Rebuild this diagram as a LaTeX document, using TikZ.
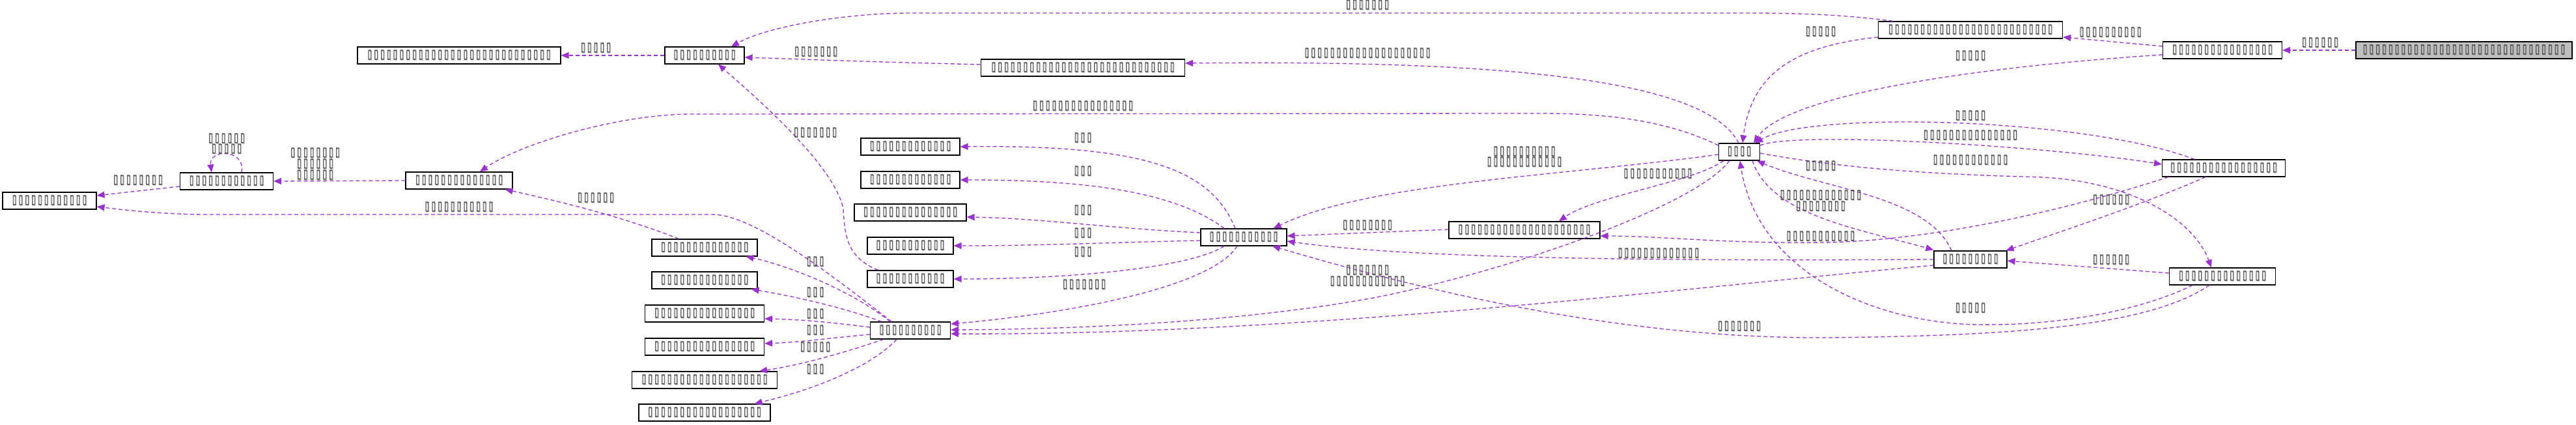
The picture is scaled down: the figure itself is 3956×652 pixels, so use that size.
\documentclass[tikz,border=0pt]{standalone}
\usepackage{fontspec}
\usepackage{graphicx}
\usetikzlibrary{arrows.meta,calc}
\newfontfamily\dvs{DejaVu Sans}
\definecolor{edgec}{HTML}{9A32CD}
\definecolor{grayfill}{HTML}{BFBFBF}
\definecolor{txtc}{HTML}{1A1A1A}
\definecolor{shadc}{HTML}{8C8C8C}
\newcommand\tffont{\dvs\fontsize{12}{14.5}\selectfont}
\newcommand\onetofu{\resizebox{6.6pt}{12.5pt}{▯}}
\newcommand\tfglyph{\makebox[9.8pt][c]{\rlap{\raisebox{-1pt}{\hspace{0.9pt}\textcolor{shadc}{\onetofu}}}\onetofu}}
\ExplSyntaxOn
\NewDocumentCommand\tofu{m}{\prg_replicate:nn{#1}{\tfglyph}}
\ExplSyntaxOff
\tikzset{
  cls/.style={draw=black, line width=1.2pt, fill=white, minimum height=26pt, inner sep=0pt, font=\tffont, text=txtc},
  edge/.style={draw=edgec, line width=1.3pt, dash pattern=on 6pt off 4pt, -{Triangle[length=12pt,width=10pt]}},
  lbl/.style={inner sep=0pt, font=\tffont, align=center, text=txtc}
}
\begin{document}
\begin{tikzpicture}[x=1pt,y=-1pt]
\useasboundingbox (0,0) rectangle (3956,652);
% nodes
\node[cls,fill=grayfill,minimum width=332pt] (A) at (3784,77) {\tofu{32}};
\node[cls,minimum width=183pt] (B) at (3413,77) {\tofu{16}};
\node[cls,minimum width=283pt] (C) at (3026,46) {\tofu{26}};
\node[cls,minimum width=122pt] (D) at (1082,85) {\tofu{10}};
\node[cls,minimum width=312pt] (E) at (705,85) {\tofu{29}};
\node[cls,minimum width=313pt] (F) at (1663,104) {\tofu{29}};
\node[cls,minimum width=63pt] (G) at (2671,233) {\tofu{4}};
\node[cls,minimum width=164pt] (H) at (705,277) {\tofu{14}};
\node[cls,minimum width=143pt] (I) at (348,278) {\tofu{12}};
\node[cls,minimum width=144pt] (J) at (76,308) {\tofu{12}};
\node[cls,minimum width=152pt] (K) at (1398,225) {\tofu{13}};
\node[cls,minimum width=152pt] (L) at (1398,276) {\tofu{13}};
\node[cls,minimum width=172pt] (M) at (1398,326) {\tofu{15}};
\node[cls,minimum width=132pt] (N) at (1398,377) {\tofu{11}};
\node[cls,minimum width=132pt] (O) at (1398,428) {\tofu{11}};
\node[cls,minimum width=132pt] (P) at (1910,364) {\tofu{11}};
\node[cls,minimum width=232pt] (Q) at (2341,353) {\tofu{21}};
\node[cls,minimum width=189pt] (R) at (3415,258) {\tofu{17}};
\node[cls,minimum width=112pt] (S) at (3026,398) {\tofu{9}};
\node[cls,minimum width=163pt] (T) at (3413,424) {\tofu{14}};
\node[cls,minimum width=123pt] (V) at (1398,507) {\tofu{10}};
\node[cls,minimum width=162pt] (L1) at (1082,380) {\tofu{14}};
\node[cls,minimum width=162pt] (L2) at (1082,430) {\tofu{14}};
\node[cls,minimum width=183pt] (L3) at (1082,481) {\tofu{16}};
\node[cls,minimum width=183pt] (L4) at (1082,532) {\tofu{16}};
\node[cls,minimum width=223pt] (L5) at (1082,583) {\tofu{20}};
\node[cls,minimum width=202pt] (L6) at (1082,633) {\tofu{18}};
% edges
\draw[edge] (A.west) -- (B.east);
\draw[edge] ($(B.west)+(0,-6)$) -- ($(C.east)+(0,11)$);
\draw[edge] ($(B.west)+(0,7)$) .. controls (3000,105) and (2740,150) .. ($(G.north)+(22,0)$);
\draw[edge] ($(C.west)+(0,11)$) .. controls (2760,70) and (2690,110) .. ($(G.north)+(5,0)$);
\draw[edge] ($(C.north west)+(23,0)$) .. controls (2800,18) and (2700,20) .. (2600,20) -- (1400,20) .. controls (1300,20) and (1180,40) .. ($(D.north)+(41,0)$);
\draw[edge] (D.west) -- (E.east);
\draw[edge] ($(F.west)+(0,-5)$) .. controls (1350,95) .. ($(D.east)+(0,3)$);
\draw[edge] ($(G.north)+(-1,0)$) .. controls (2620,120) and (2300,92) .. ($(F.east)+(0,-7)$);
\draw[edge] ($(G.west)+(0,-10)$) .. controls (2550,180) and (2450,174) .. (2363,174) -- (1063,175) .. controls (950,175) and (800,220) .. ($(H.north)+(32,0)$);
\draw[edge] ($(L1.north west)+(42,0)$) .. controls (950,330) and (850,307) .. ($(H.south east)+(-12,0)$);
\draw[edge] (H.west) -- (I.east);
\draw[edge] ($(I.north)+(23,0)$) .. controls (378,228) and (320,228) .. ($(I.north)+(-23,0)$);
\draw[edge] ($(I.west)+(0,8)$) -- ($(J.east)+(0,-8)$);
\draw[edge] ($(V.north)+(-29,0)$) .. controls (1250,400) and (1150,329) .. (1094,329) -- (320,329) .. controls (250,329) and (190,322) .. ($(J.east)+(0,9)$);
\draw[edge] ($(O.north west)+(17,0)$) .. controls (1300,395) and (1297,360) .. (1295,320) .. controls (1280,250) and (1150,140) .. ($(D.south)+(21,0)$);
\draw[edge] ($(P.north)+(-13,0)$) .. controls (1860,260) and (1760,222) .. (K.east);
\draw[edge] ($(P.north)+(-30,0)$) .. controls (1800,290) and (1650,276) .. (L.east);
\draw[edge] ($(P.west)+(0,-7)$) .. controls (1700,350) and (1600,335) .. ($(M.east)+(0,7)$);
\draw[edge] ($(P.west)+(0,5)$) .. controls (1700,372) and (1600,377) .. (N.east);
\draw[edge] ($(P.south)+(-30,0)$) .. controls (1830,410) and (1650,428) .. (O.east);
\draw[edge] ($(P.south)+(-10,0)$) .. controls (1860,440) and (1650,480) .. ($(V.east)+(0,-10)$);
\draw[edge] ($(V.north)+(-31,0)$) .. controls (1300,440) and (1200,405) .. ($(L1.south east)+(-18,0)$);
\draw[edge] ($(V.north)+(-44,0)$) .. controls (1290,470) and (1220,455) .. ($(L2.south east)+(-10,0)$);
\draw[edge] ($(V.west)+(0,-5)$) .. controls (1280,495) and (1230,490) .. ($(L3.east)+(0,8)$);
\draw[edge] ($(V.west)+(0,6)$) .. controls (1280,518) and (1230,525) .. ($(L4.east)+(0,-5)$);
\draw[edge] ($(V.south)+(-41,0)$) .. controls (1300,540) and (1230,560) .. ($(L5.north east)+(-28,0)$);
\draw[edge] ($(V.south)+(-21,0)$) .. controls (1340,560) and (1260,595) .. ($(L6.north east)+(-25,0)$);
\draw[edge] ($(Q.west)+(0,-1)$) -- ($(P.east)+(0,-2)$);
\draw[edge] ($(G.west)+(0,4)$) .. controls (2400,270) and (2100,280) .. ($(P.north east)+(-21,0)$);
\draw[edge] ($(G.south)+(-24,0)$) .. controls (2600,280) and (2450,300) .. ($(Q.north)+(53,0)$);
\draw[edge] (S.west) .. controls (2500,401) and (2150,395) .. ($(P.east)+(0,6)$);
\draw[edge] ($(G.south)+(-15,0)$) .. controls (2600,320) and (2300,420) .. (2109,457) .. controls (1900,495) and (1650,505) .. ($(V.east)+(0,-1)$);
\draw[edge] ($(S.west)+(0,9)$) .. controls (2600,440) and (2000,515) .. ($(V.east)+(0,5)$);
\draw[edge] ($(T.south)+(-20,0)$) .. controls (3300,500) and (3100,515) .. (2806,518) .. controls (2500,520) and (2200,450) .. ($(P.south)+(44,0)$);
\draw[edge] ($(T.south)+(-46,0)$) .. controls (3280,480) and (3150,500) .. (3036,498) .. controls (2880,495) and (2700,420) .. ($(G.south)+(1,0)$);
\draw[edge] ($(T.west)+(0,-5)$) -- ($(S.east)+(0,2)$);
\draw[edge] ($(R.south)+(-28,0)$) .. controls (3300,310) and (3180,350) .. ($(S.north east)+(-2,0)$);
\draw[edge] ($(R.south west)+(10,0)$) .. controls (3150,330) and (2950,370) .. (2800,372) .. controls (2650,374) and (2550,362) .. ($(Q.east)+(0,9)$);
\draw[edge] ($(R.north)+(-45,0)$) .. controls (3200,180) and (2780,170) .. ($(G.north east)+(-8,0)$);
\draw[edge] ($(G.east)+(0,-10)$) .. controls (2760,200) and (3150,225) .. ($(R.west)+(0,-6)$);
\draw[edge] ($(G.east)+(0,2)$) .. controls (2850,262) and (3000,268) .. (3138,272) .. controls (3280,280) and (3370,340) .. ($(T.north)+(-17,0)$);
\draw[edge] ($(G.south east)+(-12,0)$) .. controls (2720,330) and (2850,350) .. ($(S.north west)+(0,-1)$);
\draw[edge] ($(S.north)+(-29,0)$) .. controls (2960,300) and (2800,290) .. ($(G.south east)+(-5,0)$);
% labels
\node[lbl] (la) at (3563,66) {\tofu{6}};
\node[lbl] (lb) at (3241,50) {\tofu{10}};
\node[lbl] (lc) at (3026,86) {\tofu{5}};
\node[lbl] (ld) at (2796,49) {\tofu{5}};
\node[lbl] (le) at (2100,8) {\tofu{7}};
\node[lbl] (lf) at (915,74) {\tofu{5}};
\node[lbl] (lg) at (1253,80) {\tofu{7}};
\node[lbl] (lh) at (2100,82) {\tofu{20}};
\node[lbl] (li) at (1663,163) {\tofu{16}};
\node[lbl] (lj) at (484,252) {\tofu{8}\\\tofu{6}\\\tofu{6}};
\node[lbl] (lk) at (348,221) {\tofu{6}\\\tofu{5}};
\node[lbl] (ll) at (212,277) {\tofu{8}};
\node[lbl] (lm) at (705,318) {\tofu{11}};
\node[lbl] (ln) at (915,304) {\tofu{6}};
\node[lbl] (lo) at (1252,204) {\tofu{7}};
\node[lbl] (lp1) at (1663,212) {\tofu{3}};
\node[lbl] (lp2) at (1663,263) {\tofu{3}};
\node[lbl] (lp3) at (1663,323) {\tofu{3}};
\node[lbl] (lp4) at (1663,358) {\tofu{3}};
\node[lbl] (lp5) at (1663,387) {\tofu{3}};
\node[lbl] (lq) at (1665,437) {\tofu{7}};
\node[lbl] (lr) at (2100,346) {\tofu{8}};
\node[lbl] (ls) at (2341,241) {\tofu{10}\\\tofu{12}};
\node[lbl] (lt) at (2546,267) {\tofu{11}};
\node[lbl] (lu) at (3026,208) {\tofu{15}};
\node[lbl] (lv) at (3026,178) {\tofu{5}};
\node[lbl] (lw) at (3026,246) {\tofu{12}};
\node[lbl] (lx) at (3242,307) {\tofu{6}};
\node[lbl] (ly) at (3242,399) {\tofu{6}};
\node[lbl] (lz) at (3026,473) {\tofu{5}};
\node[lbl] (laa) at (2671,501) {\tofu{7}};
\node[lbl] (lab) at (2100,423) {\tofu{7}\\\tofu{12}};
\node[lbl] (lac) at (2547,389) {\tofu{13}};
\node[lbl] (lad) at (2796,363) {\tofu{11}};
\node[lbl] (lae) at (2796,308) {\tofu{13}\\\tofu{8}};
\node[lbl] (laf) at (2796,255) {\tofu{5}};
\node[lbl] (lv1) at (1252,402) {\tofu{3}};
\node[lbl] (lv2) at (1252,449) {\tofu{3}};
\node[lbl] (lv3) at (1252,482) {\tofu{3}};
\node[lbl] (lv4) at (1252,507) {\tofu{3}};
\node[lbl] (lv5) at (1252,533) {\tofu{5}};
\node[lbl] (lv6) at (1252,567) {\tofu{3}};
\end{tikzpicture}
\end{document}
